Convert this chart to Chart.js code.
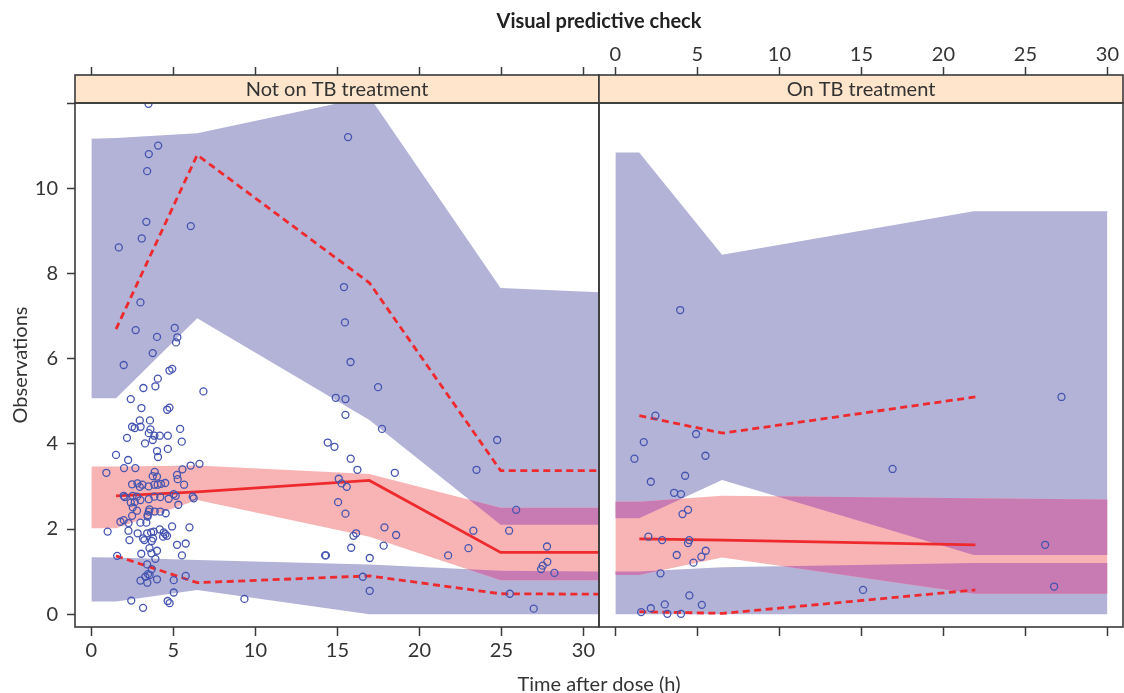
<!DOCTYPE html>
<html><head><meta charset="utf-8">
<script src="https://cdn.jsdelivr.net/npm/chart.js@4.4.1/dist/chart.umd.min.js"></script>
<style>
html,body{margin:0;padding:0;background:#fff;}
#wrap{position:relative;width:1124px;height:693px;overflow:hidden;font-family:Lato,"Open Sans",sans-serif;color:#333;}
canvas{position:absolute;left:0;top:0;}
.lbl{position:absolute;white-space:nowrap;text-align:center;}
</style></head><body>
<div id="wrap">
<canvas id="cA" width="1124" height="693" style="width:1124px;height:693px"></canvas>
<canvas id="cB" width="1124" height="693" style="width:1124px;height:693px"></canvas>
<div class="lbl" style="left:399px;width:400px;top:8px;font-size:20px;font-weight:bold;line-height:24px;color:#222;">Visual predictive check</div>
<div class="lbl" style="left:399px;width:400px;top:671px;font-size:20px;line-height:24px;">Time after dose (h)</div>
</div>
<script>
// ---------- Panel: Not on TB treatment ----------
const panelTitle_noTB = 'Not on TB treatment';
const obsTime_noTB = [3.48,4.07,3.50,3.40,3.35,6.06,3.07,1.67,2.99,2.70,5.08,4.00,5.24,5.16,3.74,
 1.97,4.76,4.93,4.05,3.17,3.90,6.83,2.40,3.05,4.62,4.76,2.95,3.57,2.48,2.64,3.00,3.60,3.50,5.41,3.84,4.17,4.66,2.17,3.74,3.27,5.51,4.00,4.66,1.50,4.06,2.24,1.99,2.68,0.91,3.86,3.74,4.00,5.55,6.05,6.59,5.22,5.26,2.48,2.81,3.11,3.49,3.84,4.04,4.24,4.50,5.65,2.95,
 1.97,2.03,2.52,2.78,2.99,3.50,3.84,4.20,4.71,5.02,5.14,5.30,6.18,6.24,2.40,2.64,2.52,2.78,3.50,3.43,3.43,3.54,3.86,4.20,4.53,2.48,1.77,1.97,2.26,2.99,3.35,4.92,5.98,0.99,2.26,2.82,3.15,3.23,3.40,3.64,3.80,4.17,4.41,4.51,4.37,4.61,3.76,3.68,2.32,5.22,5.75,3.54,4.00,3.04,3.66,5.52,3.90,1.57,3.40,3.68,3.45,3.55,3.29,4.00,2.99,3.41,5.02,5.75,5.02,2.43,4.65,4.77,3.15,9.33,
 15.65,15.40,15.46,15.80,17.48,14.90,15.49,15.49,17.72,14.41,14.82,15.81,16.22,18.50,15.08,15.26,15.57,15.04,15.49,17.87,16.14,15.98,18.58,15.84,17.82,14.25,14.30,16.97,16.55,16.97,
 24.74,23.48,25.90,23.29,25.47,22.99,21.75,27.78,27.80,27.52,27.42,28.23,25.51,26.97];
const obsConc_noTB = [11.98,11.00,10.80,10.40,9.21,9.11,8.82,8.61,7.32,6.67,6.72,6.51,6.50,6.38,6.13,
 5.85,5.72,5.76,5.53,5.31,5.35,5.23,5.05,4.84,4.80,4.85,4.55,4.55,4.40,4.37,4.40,4.34,4.25,4.35,4.19,4.19,4.19,4.14,4.09,4.01,4.05,3.83,3.88,3.74,3.69,3.62,3.43,3.43,3.32,3.34,3.24,3.23,3.40,3.49,3.53,3.27,3.17,3.05,3.07,3.04,3.00,3.04,3.04,3.06,3.08,3.04,2.99,
 2.78,2.75,2.78,2.76,2.68,2.70,2.76,2.75,2.71,2.82,2.78,2.57,2.76,2.72,2.62,2.63,2.51,2.43,2.41,2.33,2.29,2.46,2.41,2.41,2.37,2.31,2.17,2.21,2.14,2.15,2.15,2.06,2.04,1.94,1.96,1.90,1.78,1.74,1.90,1.92,1.94,1.99,1.92,1.88,1.82,1.84,1.78,1.72,1.74,1.63,1.66,1.55,1.49,1.42,1.43,1.38,1.30,1.37,1.17,1.06,0.94,0.92,0.88,0.82,0.79,0.74,0.80,0.90,0.51,0.32,0.31,0.26,0.15,0.36,
 11.20,7.68,6.85,5.92,5.33,5.08,5.05,4.68,4.35,4.03,3.93,3.65,3.39,3.32,3.18,3.07,2.99,2.63,2.36,2.04,1.90,1.84,1.86,1.56,1.61,1.38,1.38,1.32,0.88,0.55,
 4.09,3.39,2.45,1.96,1.96,1.55,1.38,1.59,1.23,1.14,1.06,0.97,0.48,0.13];
const binTime_noTB   = [1.5, 6.45, 16.95, 24.95, 30.95];
const obsMedian_noTB = [2.78, 2.87, 3.14, 1.45, 1.45];
const obsP95_noTB    = [6.69, 10.78, 7.78, 3.37, 3.37];
const obsP05_noTB    = [1.37, 0.74, 0.90, 0.48, 0.47];
const bandTime_noTB  = [0, 1.5, 6.45, 16.95, 24.95, 30.95];
const ciP95Hi_noTB   = [11.16, 11.18, 11.29, 12.15, 7.66, 7.56];
const ciP95Lo_noTB   = [5.07, 5.07, 6.95, 4.56, 2.10, 2.10];
const ciMedHi_noTB   = [3.47, 3.47, 3.49, 3.29, 2.50, 2.50];
const ciMedLo_noTB   = [2.02, 2.02, 2.68, 1.82, 0.80, 0.80];
const ciP05Hi_noTB   = [1.34, 1.33, 1.27, 1.17, 1.02, 1.00];
const ciP05Lo_noTB   = [0.30, 0.30, 0.57, 0.00, 0.00, 0.00];

// ---------- Panel: On TB treatment ----------
const panelTitle_TB = 'On TB treatment';
const obsTime_TB = [2.44,4.92,1.73,1.16,5.49,2.16,4.25,3.58,4.00,4.43,4.09,2.01,2.85,4.50,4.43,5.51,5.24,3.74,4.76,2.75,4.51,3.01,5.27,2.16,1.57,3.17,4.00,3.95,16.90,15.10,27.20,26.20,26.75];
const obsConc_TB = [4.66,4.23,4.04,3.65,3.72,3.11,3.25,2.85,2.82,2.45,2.35,1.82,1.74,1.74,1.67,1.49,1.35,1.39,1.21,0.96,0.44,0.23,0.22,0.14,0.05,0.01,0.01,7.14,3.41,0.57,5.10,1.63,0.65];
const binTime_TB   = [1.46, 6.55, 21.95];
const obsMedian_TB = [1.77, 1.74, 1.63];
const obsP95_TB    = [4.66, 4.25, 5.10];
const obsP05_TB    = [0.06, 0.02, 0.57];
const bandTime_TB  = [0, 1.45, 6.5, 21.85, 30];
const ciP95Hi_TB   = [10.84, 10.84, 8.44, 9.46, 9.46];
const ciP95Lo_TB   = [2.25, 2.25, 3.15, 1.39, 1.39];
const ciMedHi_TB   = [2.64, 2.64, 2.78, 2.72, 2.69];
const ciMedLo_TB   = [0.92, 0.92, 1.33, 0.48, 0.48];
const ciP05Hi_TB   = [1.00, 1.00, 1.10, 1.20, 1.20];
const ciP05Lo_TB   = [0, 0, 0, 0, 0];

const xTicks = [0, 5, 10, 15, 20, 25, 30];
const yTicks = [0, 2, 4, 6, 8, 10];

const RED = '#EE2A2E', LAV = '#B3B2D7', PINK = '#F8B4B5', MAG = '#C87BB3', PT = '#4454B0';
const STRIP = '#FEE5CC', FRAME = '#3a3a3a', TXT = '#333333';
const FONT = 'Lato, "Open Sans", sans-serif';

const xy = (xs, ys) => xs.map((x, i) => ({x: x, y: ys[i]}));

const vpcPlugin = {
  id: 'vpc',
  beforeDatasetsDraw(chart) {
    const ctx = chart.ctx, a = chart.chartArea;
    const d = i => chart.getDatasetMeta(i).data;
    const poly = (hi, lo) => {
      ctx.moveTo(hi[0].x, hi[0].y);
      for (let i = 1; i < hi.length; i++) ctx.lineTo(hi[i].x, hi[i].y);
      for (let i = lo.length - 1; i >= 0; i--) ctx.lineTo(lo[i].x, lo[i].y);
      ctx.closePath();
    };
    ctx.save();
    ctx.beginPath(); ctx.rect(a.left, a.top, a.right - a.left, a.bottom - a.top); ctx.clip();
    ctx.beginPath(); poly(d(5), d(4)); ctx.clip();
    ctx.beginPath(); poly(d(7), d(6)); poly(d(9), d(8));
    ctx.fillStyle = MAG; ctx.fill();
    ctx.restore();
  },
  afterDraw(chart, args, opts) {
    const ctx = chart.ctx, a = chart.chartArea;
    const stripTop = 75;
    ctx.save();
    ctx.fillStyle = STRIP;
    ctx.fillRect(a.left, stripTop, a.right - a.left, a.top - stripTop);
    ctx.strokeStyle = FRAME; ctx.lineWidth = 1.6;
    ctx.strokeRect(a.left, stripTop, a.right - a.left, a.top - stripTop);
    ctx.strokeRect(a.left, a.top, a.right - a.left, a.bottom - a.top);
    ctx.fillStyle = TXT; ctx.font = '20px ' + FONT;
    ctx.textAlign = 'center'; ctx.textBaseline = 'middle';
    ctx.fillText(opts.strip, (a.left + a.right) / 2, (stripTop + a.top) / 2 + 1);
    ctx.restore();
  }
};

function makeConfig(p, isLeft) {
  const lineDs = (ys, dash) => ({data: xy(p.binT, ys), borderColor: RED, borderWidth: 2.8, borderDash: dash,
    pointRadius: 0, fill: false, showLine: true, clip: 0});
  const bandDs = (ys, fill, col) => ({data: xy(p.bandT, ys), borderColor: 'rgba(0,0,0,0)', borderWidth: 0,
    pointRadius: 0, fill: fill, backgroundColor: col, showLine: true, clip: 0});
  const tickFont = {family: FONT, size: 20};
  const xBase = {type: 'linear', min: -1, max: 30.95,
    grid: {drawOnChartArea: false, drawTicks: true, tickColor: FRAME, tickWidth: 1.5},
    border: {display: false}};
  const xTickOpts = (show) => ({stepSize: 5, includeBounds: false, autoSkip: false, maxRotation: 0,
    font: tickFont, color: TXT, padding: isLeft ? 3 : 0,
    callback: v => (show && xTicks.includes(v)) ? String(v) : ''});
  const fitX = h => s => { s.height = h; s.paddingLeft = 0; s.paddingRight = 0; };
  const scales = {
    x: Object.assign({}, xBase, {position: isLeft ? 'bottom' : 'top',
      afterFit: fitX(isLeft ? 66 : 103),
      grid: Object.assign({}, xBase.grid, {tickLength: isLeft ? 9 : 36}),
      ticks: xTickOpts(true)}),
    x2: Object.assign({}, xBase, {position: isLeft ? 'top' : 'bottom',
      afterFit: fitX(isLeft ? 103 : 66),
      grid: Object.assign({}, xBase.grid, {tickLength: isLeft ? 36 : 9}),
      ticks: xTickOpts(false)}),
    y: {type: 'linear', min: -0.3, max: 12, position: 'left', display: isLeft,
      afterFit: s => { s.width = isLeft ? 75 : 0; s.paddingTop = 0; s.paddingBottom = 0; },
      grid: {drawOnChartArea: false, drawTicks: true, tickLength: 8, tickColor: FRAME, tickWidth: 1.5},
      border: {display: false},
      ticks: {stepSize: 2, includeBounds: false, font: tickFont, color: TXT, padding: 9,
        callback: v => yTicks.includes(v) ? String(v) : ''},
      title: {display: true, text: 'Observations', font: {family: FONT, size: 20}, color: TXT, padding: {top: 9, bottom: 0}}}
  };
  return {
    type: 'line',
    data: {datasets: [
      {data: xy(p.obsT, p.obsC), showLine: false, pointRadius: 3.5, pointStyle: 'circle',
        pointBorderColor: PT, pointBackgroundColor: 'rgba(0,0,0,0)', pointBorderWidth: 1.3, fill: false, clip: 0},
      lineDs(p.med, []),
      lineDs(p.p95, [7, 4.5]),
      lineDs(p.p05, [7, 4.5]),
      bandDs(p.medLo, false, PINK),
      bandDs(p.medHi, '-1', PINK),
      bandDs(p.p95Lo, false, LAV),
      bandDs(p.p95Hi, '-1', LAV),
      bandDs(p.p05Lo, false, LAV),
      bandDs(p.p05Hi, '-1', LAV)
    ]},
    options: {
      responsive: false, animation: false, devicePixelRatio: 1,
      layout: {autoPadding: false,
        padding: isLeft ? {left: 0, right: 1124 - 599, top: 0, bottom: 0} : {left: 599, right: 1, top: 0, bottom: 0}},
      scales: scales,
      plugins: {legend: {display: false}, tooltip: {enabled: false}, title: {display: false},
        filler: {drawTime: 'beforeDatasetsDraw', propagate: false},
        vpc: {strip: p.title}},
      elements: {line: {tension: 0}}
    },
    plugins: [vpcPlugin]
  };
}

new Chart(document.getElementById('cA'), makeConfig({
  title: panelTitle_noTB, obsT: obsTime_noTB, obsC: obsConc_noTB,
  binT: binTime_noTB, med: obsMedian_noTB, p95: obsP95_noTB, p05: obsP05_noTB,
  bandT: bandTime_noTB, p95Hi: ciP95Hi_noTB, p95Lo: ciP95Lo_noTB, medHi: ciMedHi_noTB, medLo: ciMedLo_noTB,
  p05Hi: ciP05Hi_noTB, p05Lo: ciP05Lo_noTB}, true));

new Chart(document.getElementById('cB'), makeConfig({
  title: panelTitle_TB, obsT: obsTime_TB, obsC: obsConc_TB,
  binT: binTime_TB, med: obsMedian_TB, p95: obsP95_TB, p05: obsP05_TB,
  bandT: bandTime_TB, p95Hi: ciP95Hi_TB, p95Lo: ciP95Lo_TB, medHi: ciMedHi_TB, medLo: ciMedLo_TB,
  p05Hi: ciP05Hi_TB, p05Lo: ciP05Lo_TB}, false));
</script>
</body></html>
